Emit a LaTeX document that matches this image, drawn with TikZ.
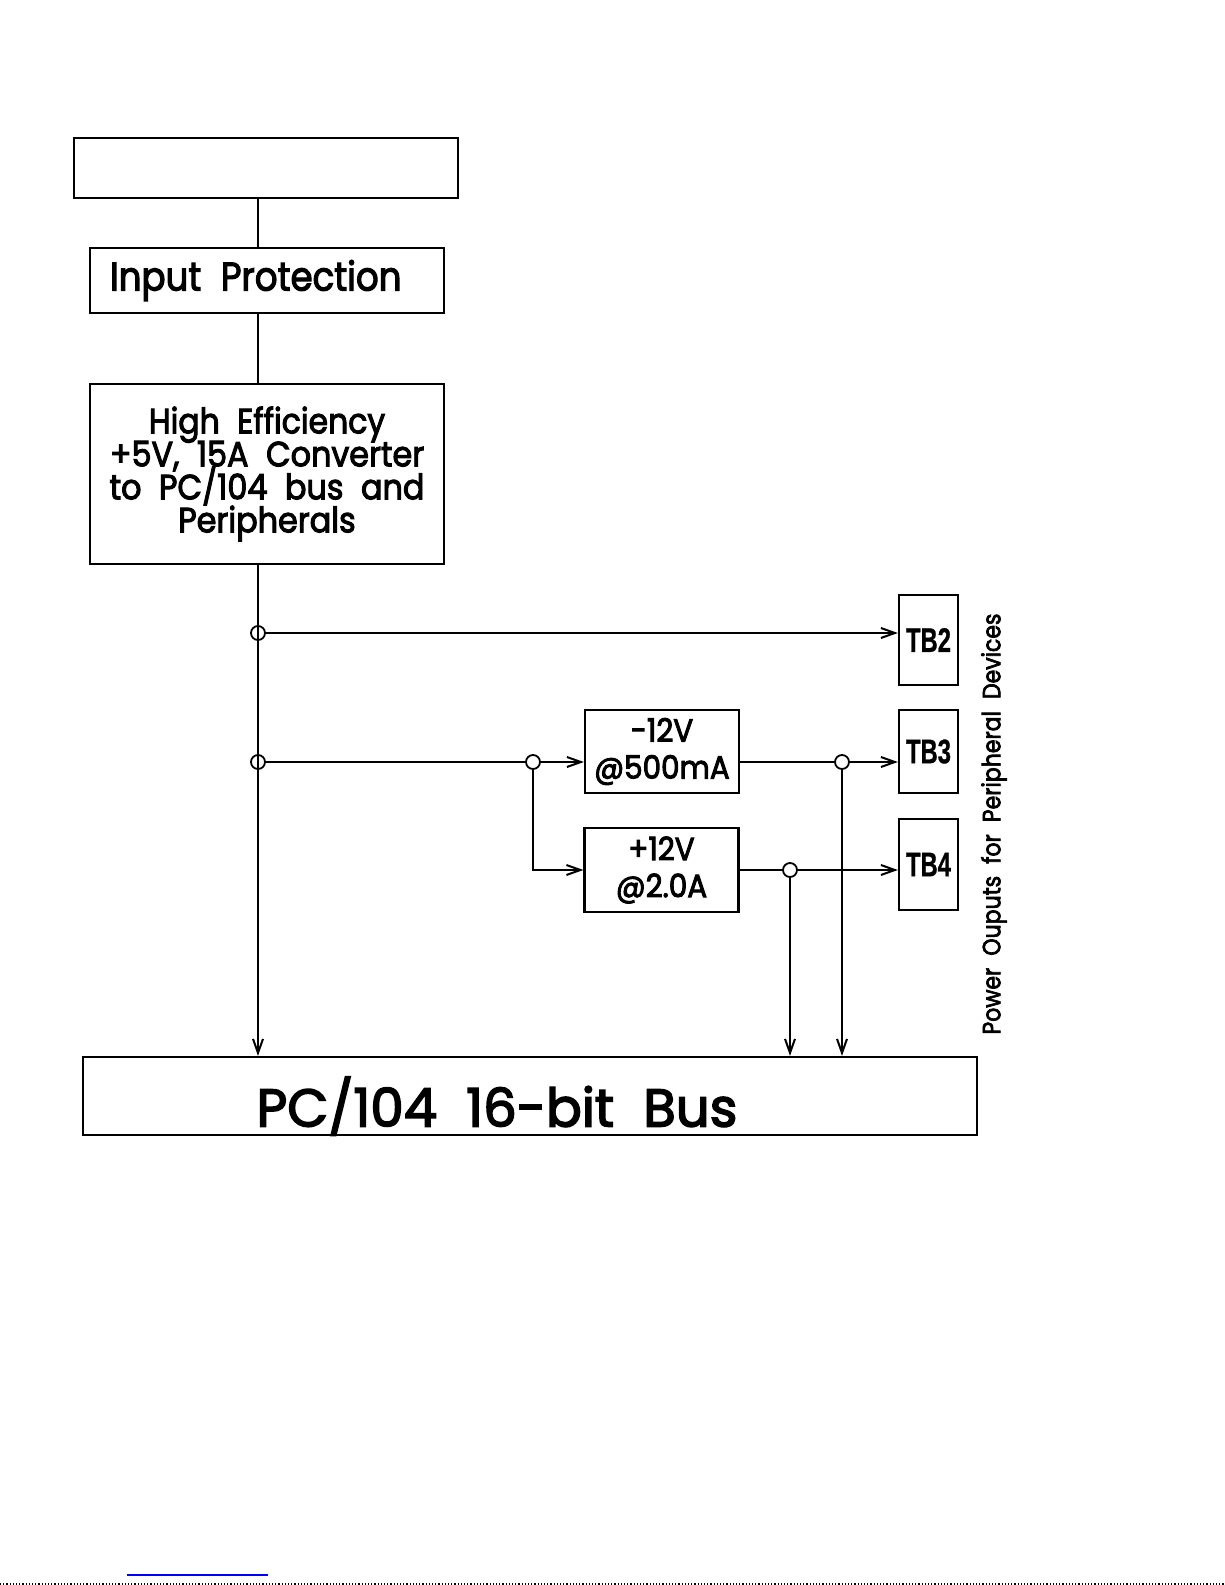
\documentclass[tikz,border=0pt]{standalone}
\usepackage{fontspec}
\setmainfont{Poppins}[FakeBold=3]
\newfontfamily\tbfont{Liberation Sans}[FakeBold=1]
\usetikzlibrary{arrows.meta}
\setlength{\lineskiplimit}{-20pt}
\tikzset{
    RA1/.style ={rectangle, draw, line width=1.1pt, inner sep=0pt, align=center},
    RA2/.style ={rectangle, draw, line width=1.1pt, minimum width=29.5pt, inner sep=0pt, font=\tbfont\bfseries\fontsize{17}{17}\selectfont},
    RA3/.style ={rectangle, draw, line width=1.1pt, minimum width=77pt, minimum height=41.5pt, inner sep=0pt, align=center, font=\fontsize{16}{18.5}\selectfont},
    CC1/.style ={circle, draw, line width=.9pt, minimum size=7pt, inner sep=0pt},
    LN/.style ={line width=1pt},
    AR/.style ={LN, -{Straight Barb[length=7pt,width=5pt]}}}
\newcommand{\tbl}[1]{\scalebox{.7}[1]{#1}}
\newcommand{\sx}[2]{\scalebox{#1}[1]{\spaceskip=.55em\relax#2}}

\begin{document}
\begin{tikzpicture}[x=.5pt,y=-.5pt]
        \useasboundingbox (0,0) rectangle (1225,1585);
        \node[RA1, minimum width=192pt, minimum height=30pt] (top) at (266,168) {};
        \node[RA1, text width=157pt, inner xsep=10pt, align=left, minimum height=32.5pt, font=\fontsize{20}{20}\selectfont] (inp) at (267,280.5) {\raisebox{-2pt}{\sx{.89}{Input Protection}}};
        \node[RA1, minimum width=177pt, minimum height=90pt, font=\fontsize{17.5}{16.5}\selectfont] (cnv) at (267,474) {\sx{.9}{High Efficiency}\\\sx{.91}{+5V, 15A Converter}\\\sx{.91}{to PC/104 bus and}\\\sx{.91}{Peripherals}};
        \node[RA1, minimum width=447pt, minimum height=39pt, label={[font=\fontsize{26.5}{26.5}\selectfont, xshift=-16.5pt, yshift=-5pt]center:\sx{1}{PC/104 16-bit Bus}}] (bus) at (530,1096) {};
        \coordinate (tr) at (258,0);
        \node[CC1] (j1) at (258,633) {};
        \node[CC1] (j2) at (258,762) {};
        \node[CC1] (j3) at (533,762) {};
        \node[CC1] (j4) at (842,762) {};
        \node[CC1] (j5) at (790,870) {};
        \node[RA2, minimum height=45pt] (tb2) at (928.5,640) {\tbl{TB2}};
        \node[RA2, minimum height=41.5pt] (tb3) at (928.5,751.5) {\tbl{TB3}};
        \node[RA2, minimum height=45.5pt] (tb4) at (928.5,864.5) {\tbl{TB4}};
        \node[RA3] (m12) at (662,751.5) {\sx{.92}{-12V}\\\sx{.92}{@500mA}};
        \node[RA3, minimum height=42pt] (p12) at (661.5,870) {\sx{.92}{+12V}\\\sx{.92}{@2.0A}};
        \node[rotate=90, font=\fontsize{12.5}{12.5}\selectfont] (pwr) at (994,824) {\sx{.88}{Power Ouputs for Peripheral Devices}};
        \draw[LN] (top.south -| tr) -- (inp.north -| tr) (inp.south -| tr) -- (cnv.north -| tr);
        \draw[AR] (cnv.south -| tr) -- (bus.north -| tr);
        \draw[AR] (j1) -- (tb2.west |- j1);
        \draw[LN] (j2) -- (j3);
        \draw[AR] (j3) -- (m12.west |- j3);
        \draw[AR] (j3) |- (p12.west);
        \draw[LN] (m12.east |- j4) -- (j4);
        \draw[AR] (j4) -- (tb3.west |- j4);
        \draw[LN] (p12.east) -- (j5);
        \draw[AR] (j5) -- (tb4.west |- j5);
        \draw[AR] (j4) -- (bus.north -| j4);
        \draw[AR] (j5) -- (bus.north -| j5);
        \draw[blue, line width=.8pt] (127,1575) -- (268,1575);
        \draw[line width=.6pt, densely dotted] (0,1584) -- (1225,1584);
    \end{tikzpicture}
\end{document}
